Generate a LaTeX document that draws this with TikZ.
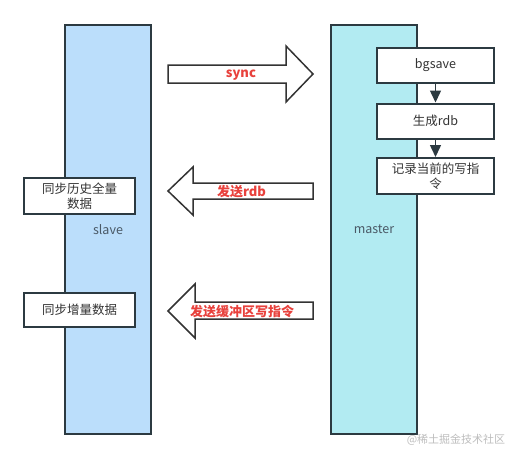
\documentclass[tikz,border=0pt]{standalone}
\usepackage{fontspec}
\setmainfont{Noto Sans CJK SC}
\usetikzlibrary{arrows.meta}

\definecolor{slaveblue}{HTML}{BBDEFB}
\definecolor{masterblue}{HTML}{B2EBF2}
\definecolor{edgegray}{HTML}{2C3A41}
\definecolor{msgred}{HTML}{E8413C}
\definecolor{textgray}{HTML}{333333}
\definecolor{labelgray}{HTML}{4A5966}
\definecolor{wmgray}{HTML}{BDBDBD}

\begin{document}
\begin{tikzpicture}[x=1pt,y=-1pt]

\tikzset{
  column/.style={draw=edgegray, line width=2pt, minimum width=86pt, minimum height=409pt, inner sep=0pt, text=labelgray, font=\fontsize{12.5}{14}\selectfont},
  stepbox/.style={draw=edgegray, line width=2pt, fill=white, minimum width=117pt, minimum height=35pt, inner sep=1pt, align=center, text=textgray, font=\fontsize{12.5}{15}\selectfont},
  syncbox/.style={stepbox, minimum width=111pt},
  flow/.style={draw=edgegray, line width=1.5pt, -{Triangle[length=12pt,width=11pt]}},
  bigarrow/.style={draw=textgray, line width=1.5pt, fill=white, line join=miter},
  msg/.style={text=msgred, inner sep=0pt, font=\fontsize{13}{15}\selectfont\bfseries},
  wmtext/.style={text=wmgray, inner sep=0pt, font=\fontsize{11}{13}\selectfont}
}

\useasboundingbox (0,0) rectangle (519,459);

\node[column, fill=slaveblue] (slave) at (108,229.5) {slave};
\node[column, fill=masterblue] (master) at (374,229.5) {master};

\node[stepbox] (bgsave) at (435.5,65.5) {bgsave};
\node[stepbox] (gendb) at (435.5,121) {生成rdb};
\node[stepbox, minimum height=36pt] (record) at (435.5,176) {记录当前的写指\\令};
\draw[flow] (bgsave) -- (gendb);
\draw[flow] (gendb) -- (record);

\node[syncbox, minimum height=36pt] (fullsync) at (79.5,196) {同步历史全量\\数据};
\node[syncbox, minimum height=34pt] (incsync) at (79.5,310) {同步增量数据};

\draw[bigarrow] (168,65) -- (286,65) -- (286,46) -- (313,74) -- (286,102) -- (286,83) -- (168,83) -- cycle;
\node[msg] (sync) at (241,75) {sync};

\draw[bigarrow] (313,183) -- (193,183) -- (193,167) -- (168,191) -- (193,215) -- (193,199) -- (313,199) -- cycle;
\node[msg] (sendrdb) at (241.5,192) {发送rdb};

\draw[bigarrow] (313,302) -- (195,302) -- (195,284) -- (168,311) -- (195,338) -- (195,319) -- (313,319) -- cycle;
\node[msg] (sendbuf) at (242,312) {发送缓冲区写指令};

\node[wmtext] (watermark) at (456,440) {@稀土掘金技术社区};

\end{tikzpicture}
\end{document}
